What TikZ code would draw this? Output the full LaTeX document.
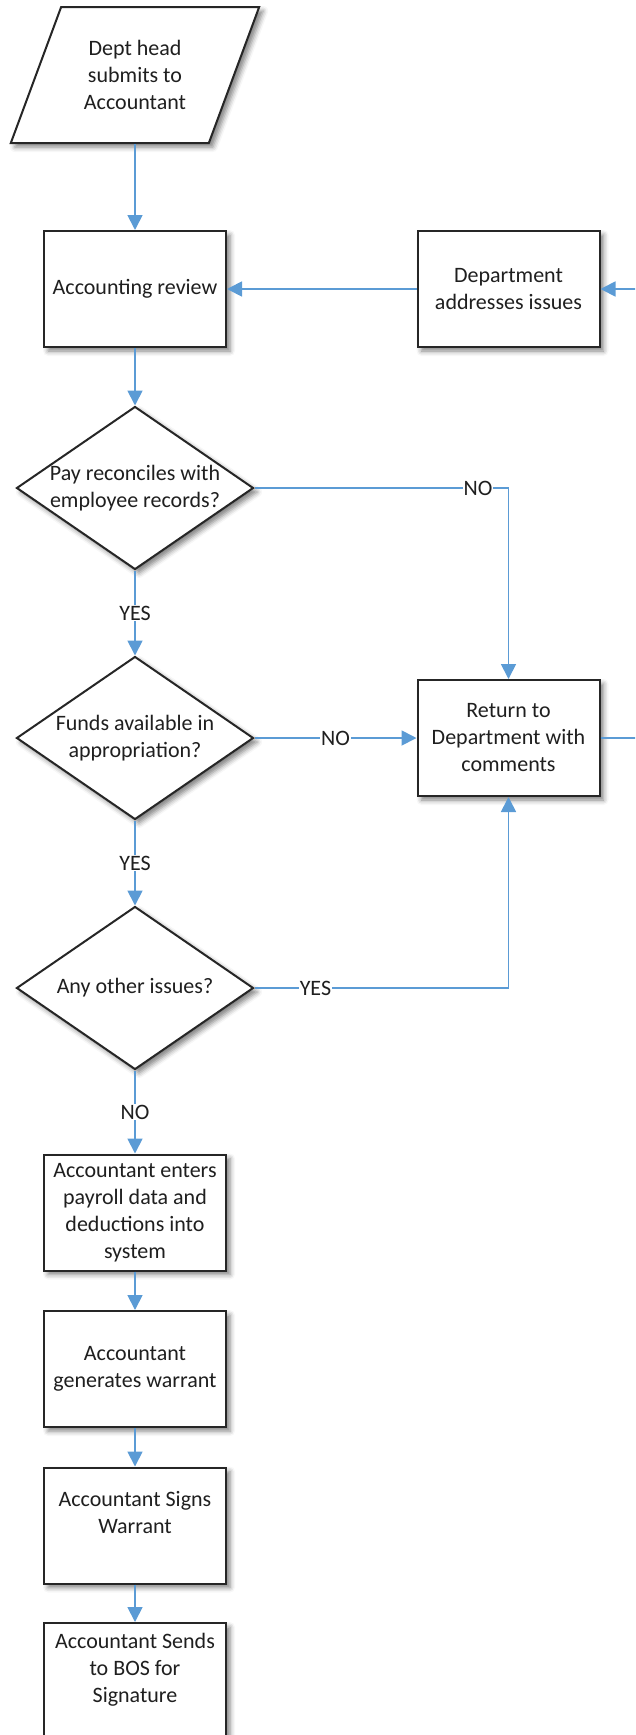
\documentclass[tikz,border=0pt]{standalone}
\usepackage{fontspec}
\setmainfont{Carlito}
\usepackage{xcolor}
\usepackage{tikz}
\usetikzlibrary{arrows.meta, positioning, shapes.geometric, shadows.blur}

\definecolor{linkblue}{RGB}{91,155,213}
\definecolor{boxline}{RGB}{38,38,38}

\begin{document}
\begin{tikzpicture}[x=1pt, y=-1pt,
    >={Triangle[length=15pt, width=15pt]},
    every node/.style={font=\fontsize{22}{27}\selectfont, text=black!88},
    softshadow/.style={blur shadow={shadow xshift=4pt, shadow yshift=-4pt, shadow blur radius=5pt, shadow opacity=50}},
    process/.style={draw=boxline, line width=2pt, fill=white, softshadow, minimum width=182pt, minimum height=116pt, align=center, inner sep=2pt},
    decision/.style={diamond, draw=boxline, line width=2pt, fill=white, softshadow, minimum width=237pt, minimum height=163pt, inner sep=0pt},
    io/.style={trapezium, trapezium left angle=63.4, trapezium right angle=116.6, trapezium stretches=true, draw=boxline, line width=2pt, fill=white, softshadow, minimum width=249pt, minimum height=136pt, align=center, inner sep=0pt},
    flow/.style={->, draw=linkblue, line width=1.8pt},
    answer/.style={fill=white, inner sep=1pt}]

% Page frame (the loop on the right runs off the page)
\clip (0,0) rectangle (635,1735);

% Input
\node[io] (submit) at (135,75) {Dept head\\submits to\\Accountant};

% Review and fix-up boxes
\node[process] (review) at (135,289) {Accounting review};
\node[process] (fix) at (508.5,289) {Department\\addresses issues};

% Checks
\node[decision, label={[align=center]center:{Pay reconciles with\\employee records?}}] (recon) at (135,488) {};
\node[decision, label={[align=center]center:{Funds available in\\appropriation?}}] (funds) at (135,738) {};
\node[decision, label={center:{Any other issues?}}] (other) at (135,988) {};

\node[process] (back) at (508.5,738) {Return to\\Department with\\comments};

% Processing steps
\node[process] (enter) at (135,1212.5) {Accountant enters\\payroll data and\\deductions into\\system};
\node[process] (gen) at (135,1369) {Accountant\\generates warrant};
\node[process] (sign) at (135,1525.5) {Accountant Signs\\Warrant\\\mbox{}};
\node[process] (send) at (135,1681) {Accountant Sends\\to BOS for\\Signature\\\mbox{}};

% Main flow
\draw[flow] (submit) -- (review);
\draw[flow] (review) -- (recon);
\draw[flow] (recon) -- node[answer] {YES} (funds);
\draw[flow] (funds) -- node[answer] {YES} (other);
\draw[flow] (other) -- node[answer] {NO} (enter);
\draw[flow] (enter) -- (gen);
\draw[flow] (gen) -- (sign);
\draw[flow] (sign) -- (send);

% Rejections
\draw[flow] (recon.east) -| node[answer, pos=0.44] {NO} (back.north);
\draw[flow] (funds) -- node[answer] {NO} (back);
\draw[flow] (other.east) -| node[answer, pos=0.12] {YES} (back.south);

% Loop back
\draw[flow] (back.east) -- ++(60,0) |- (fix.east);
\draw[flow] (fix) -- (review);

\end{tikzpicture}
\end{document}
